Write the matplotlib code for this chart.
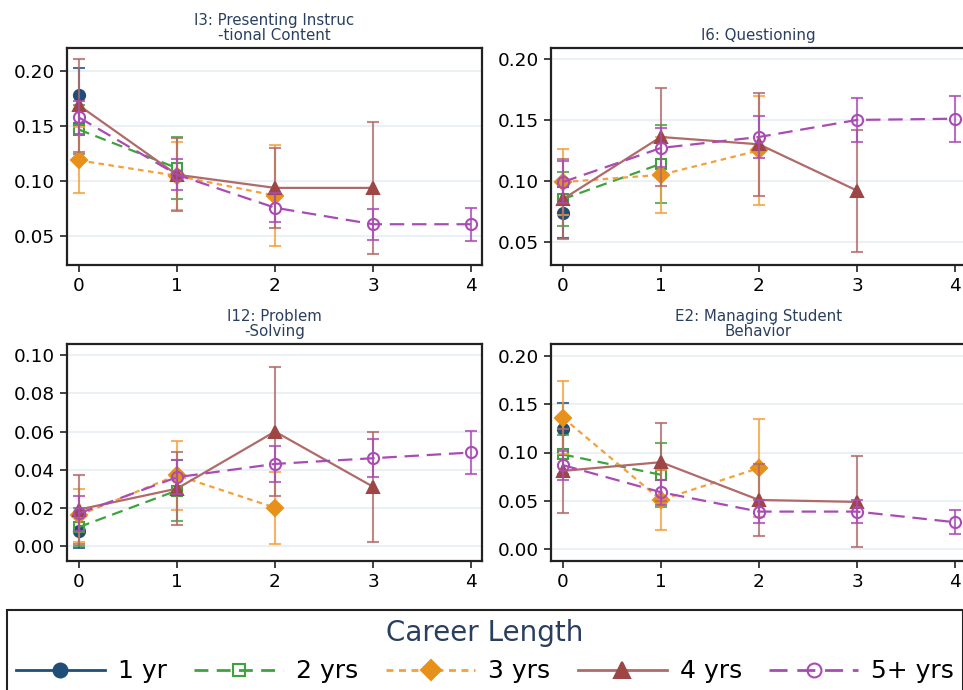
import matplotlib
matplotlib.use("Agg")
import matplotlib.pyplot as plt
from matplotlib.lines import Line2D
from matplotlib.ticker import MultipleLocator, FormatStrFormatter

# Data (x = 0..4, series get shorter as career grows)
years = [0, 1, 2, 3, 4]
career_labels = ['1 yr', '2 yrs', '3 yrs', '4 yrs', '5+ yrs']
panel_titles = ['I3: Presenting Instruc\n-tional Content', 'I6: Questioning',
                'I12: Problem\n-Solving', 'E2: Managing Student\nBehavior']

i3_mean = [[0.178], [0.147, 0.112], [0.119, 0.105, 0.087],
           [0.169, 0.106, 0.094, 0.094], [0.158, 0.106, 0.076, 0.061, 0.061]]
i3_err = [[0.025], [0.022, 0.028], [0.030, 0.031, 0.046],
          [0.042, 0.033, 0.036, 0.060], [0.015, 0.014, 0.013, 0.014, 0.015]]

i6_mean = [[0.074], [0.085, 0.114], [0.099, 0.105, 0.125],
           [0.085, 0.136, 0.130, 0.092], [0.099, 0.127, 0.136, 0.150, 0.151]]
i6_err = [[0.021], [0.022, 0.032], [0.027, 0.031, 0.045],
          [0.033, 0.040, 0.042, 0.050], [0.017, 0.016, 0.017, 0.018, 0.019]]

i12_mean = [[0.008], [0.0098, 0.029], [0.016, 0.037, 0.020],
            [0.019, 0.030, 0.060, 0.031], [0.017, 0.036, 0.043, 0.046, 0.049]]
i12_err = [[0.009], [0.010, 0.016], [0.014, 0.018, 0.019],
           [0.018, 0.019, 0.034, 0.029], [0.009, 0.009, 0.0095, 0.010, 0.0115]]

e2_mean = [[0.124], [0.098, 0.077], [0.136, 0.051, 0.084],
           [0.081, 0.090, 0.051, 0.049], [0.087, 0.059, 0.039, 0.039, 0.028]]
e2_err = [[0.027], [0.020, 0.033], [0.038, 0.031, 0.051],
          [0.043, 0.040, 0.037, 0.047], [0.015, 0.013, 0.012, 0.012, 0.0125]]

# styles per career length
line_colors = ['#1f4e79', '#3ea33e', '#f5a03a', '#b06a6a', '#a84cb4']
face_colors = ['#1f4e79', 'none', '#e8901c', '#9e4646', 'none']
markers = ['o', 's', 'D', '^', 'o']
msizes = [8, 7, 8, 9, 8]
dashes = [None, (5, 3), (2.5, 2), None, (6.5, 3.5)]
draw_order = [1, 2, 3, 4, 0]

fig = plt.figure(figsize=(9.63, 6.9), dpi=100)
W, H = 963, 690

def px_axes(x0, y0, x1, y1):
    return fig.add_axes([x0 / W, 1 - y1 / H, (x1 - x0) / W, (y1 - y0) / H])

axes = [px_axes(67, 48, 482, 265), px_axes(551, 48, 966, 265),
        px_axes(67, 344, 482, 561), px_axes(551, 344, 966, 561)]
means = [i3_mean, i6_mean, i12_mean, e2_mean]
errs = [i3_err, i6_err, i12_err, e2_err]
ylims = [(0.024, 0.221), (0.031, 0.209), (-0.008, 0.106), (-0.012, 0.212)]
ysteps = [0.05, 0.05, 0.02, 0.05]

title_color = '#2a3f5f'

for ax, m, e, title, yl, st in zip(axes, means, errs, panel_titles, ylims, ysteps):
    for i in draw_order:
        xs = years[:len(m[i])]
        ebar = ax.errorbar(xs, m[i], yerr=e[i], color=line_colors[i],
                           marker=markers[i], markersize=msizes[i],
                           markerfacecolor=face_colors[i],
                           markeredgecolor=face_colors[i] if face_colors[i] != 'none' else line_colors[i],
                           markeredgewidth=1.5, linewidth=1.6,
                           elinewidth=1.5, capsize=4, capthick=1.5,
                           ecolor=line_colors[i], zorder=3 + i)
        line = ebar[0]
        if dashes[i] is not None:
            line.set_dashes(dashes[i])
        for c in ebar[1]:
            c.set_alpha(0.8)
        for c in ebar[2]:
            c.set_alpha(0.8)
    ax.set_xlim(-0.12, 4.11)
    ax.set_ylim(*yl)
    ax.set_xticks(years)
    ax.yaxis.set_major_locator(MultipleLocator(st))
    ax.yaxis.set_major_formatter(FormatStrFormatter('%.2f'))
    ax.grid(axis='y', color='#ebf0f4', linewidth=1.5, zorder=0)
    ax.set_axisbelow(True)
    for s in ax.spines.values():
        s.set_color('#222222')
        s.set_linewidth(1.6)
    ax.tick_params(axis='both', direction='out', length=5, width=1.2,
                   labelsize=13.3, colors='#222222', labelcolor='black')
    ax.set_title(title, fontsize=10.8, color=title_color, linespacing=0.95, pad=6)

# legend built from proxy handles
handles = []
for i, lab in enumerate(career_labels):
    h = Line2D([], [], color=line_colors[i], marker=markers[i], markersize=msizes[i] + 2,
               markerfacecolor=face_colors[i],
               markeredgecolor=face_colors[i] if face_colors[i] != 'none' else line_colors[i],
               markeredgewidth=1.5, linewidth=2, label=lab)
    if dashes[i] is not None:
        h.set_dashes(dashes[i])
    handles.append(h)

leg = fig.legend(handles=handles, loc='upper left', bbox_to_anchor=(7 / W, 1 - 610 / H),
                 borderaxespad=0, ncol=5, fontsize=18, title='Career Length',
                 title_fontsize=20, frameon=True, fancybox=False, framealpha=1,
                 edgecolor='#222222', handlelength=3.56, handletextpad=0.52,
                 columnspacing=1.1, borderpad=0.35)
leg.get_title().set_color(title_color)
leg.get_frame().set_linewidth(1.5)

fig.savefig('out.png', dpi=100)
